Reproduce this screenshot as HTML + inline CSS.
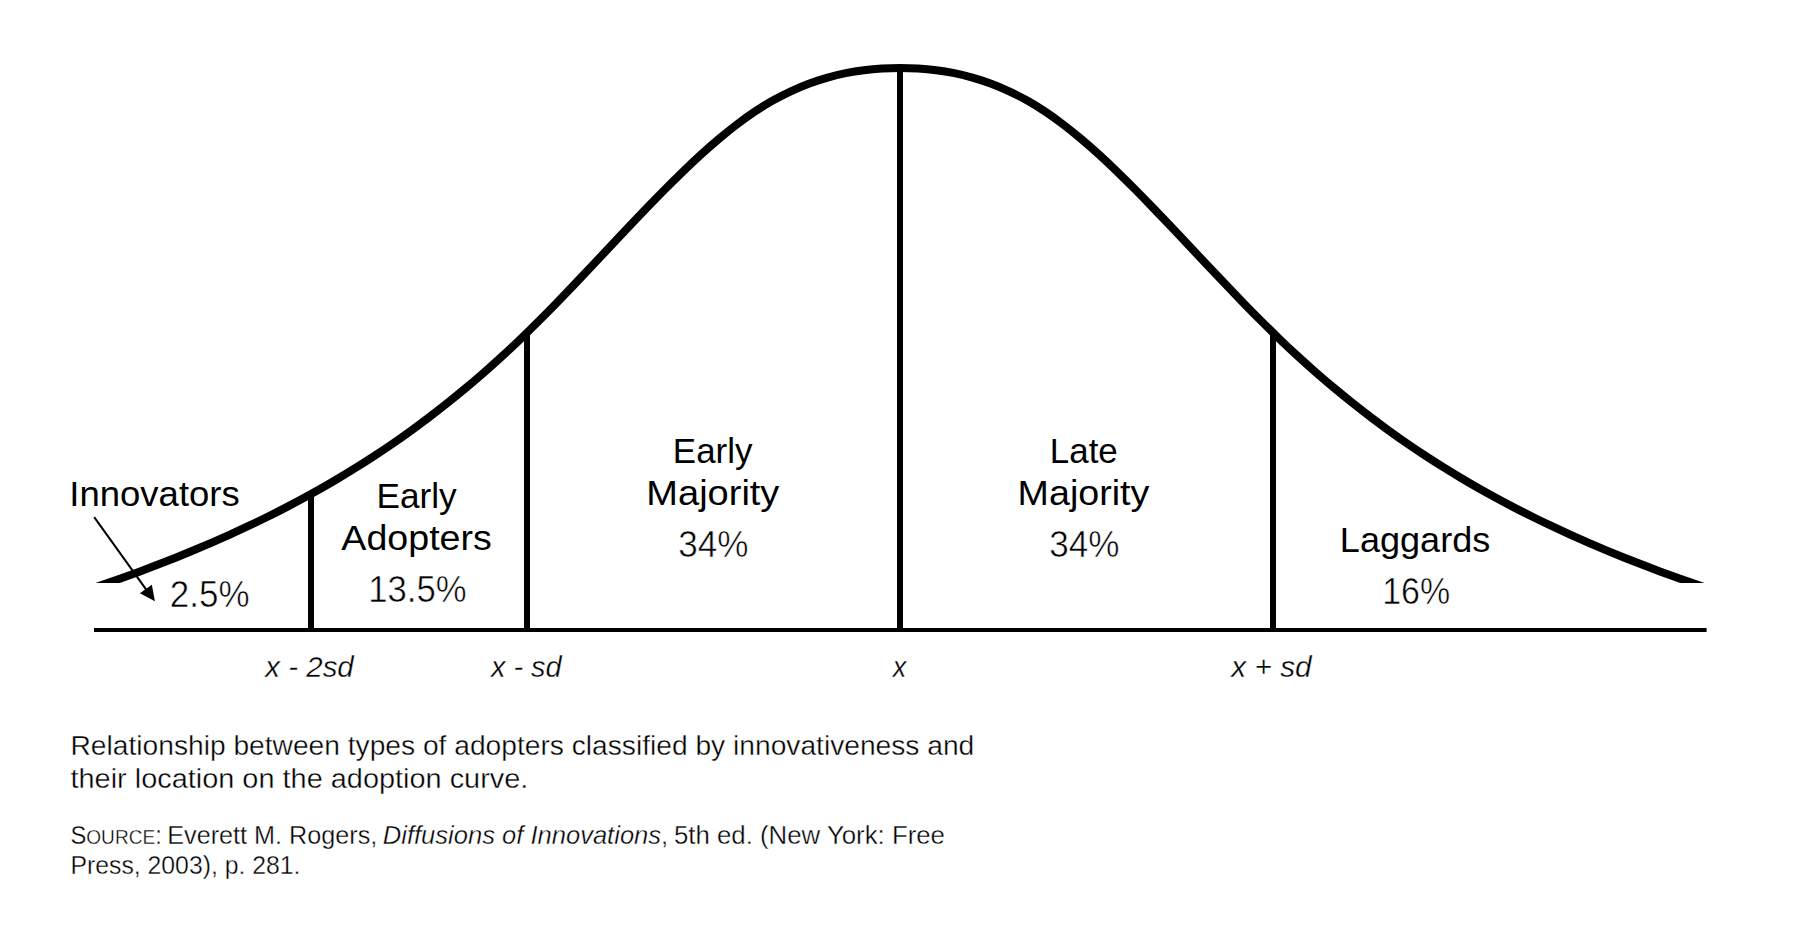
<!DOCTYPE html>
<html lang="en"><head><meta charset="utf-8"><title>Adoption curve</title>
<style>html,body{margin:0;padding:0;background:#fff;}body{width:1800px;height:945px;overflow:hidden;}svg{display:block;}</style>
</head><body>
<svg width="1800" height="945" viewBox="0 0 1800 945">
<defs><clipPath id="cc"><rect x="0" y="0" width="1800" height="583.0"/></clipPath></defs>
<rect width="1800" height="945" fill="#fff"/>
<g clip-path="url(#cc)"><path d="M85.00,590.77 C91.04,588.75 97.07,586.70 103.11,584.62 C109.15,582.53 115.19,580.41 121.22,578.25 C127.26,576.10 133.30,573.90 139.33,571.66 C145.37,569.42 151.41,567.14 157.44,564.81 C163.48,562.49 169.52,560.12 175.56,557.70 C181.59,555.29 187.63,552.82 193.67,550.31 C199.70,547.79 205.74,545.23 211.78,542.61 C217.81,540.00 223.85,537.33 229.89,534.60 C235.93,531.87 241.96,529.09 248.00,526.24 C254.04,523.40 260.07,520.49 266.11,517.51 C272.15,514.54 278.19,511.49 284.22,508.38 C290.26,505.27 296.30,502.08 302.33,498.82 C308.37,495.55 314.41,492.21 320.44,488.79 C326.48,485.37 332.52,481.86 338.56,478.27 C344.59,474.68 350.63,471.00 356.67,467.23 C362.70,463.46 368.74,459.60 374.78,455.64 C380.81,451.68 386.85,447.62 392.89,443.47 C398.93,439.31 404.96,435.05 411.00,430.68 C417.04,426.32 423.07,421.85 429.11,417.27 C435.15,412.69 441.19,408.00 447.22,403.19 C453.26,398.39 459.30,393.47 465.33,388.43 C471.37,383.39 477.41,378.23 483.44,372.95 C489.48,367.67 495.52,362.27 501.56,356.74 C507.59,351.21 513.63,345.56 519.67,339.77 C525.70,333.98 531.74,328.06 537.78,322.04 C543.81,316.01 549.85,309.88 555.89,303.68 C561.93,297.47 567.96,291.19 574.00,284.86 C580.04,278.53 586.07,272.16 592.11,265.76 C598.15,259.36 604.19,252.94 610.22,246.53 C616.26,240.11 622.30,233.71 628.33,227.34 C634.37,220.97 640.41,214.63 646.44,208.36 C652.48,202.09 658.52,195.88 664.56,189.79 C670.59,183.69 676.63,177.70 682.67,171.86 C688.70,166.02 694.74,160.32 700.78,154.82 C706.81,149.31 712.85,143.99 718.89,138.90 C724.93,133.81 730.96,128.95 737.00,124.36 C743.04,119.77 749.07,115.44 755.11,111.43 C761.15,107.41 767.19,103.71 773.22,100.33 C779.26,96.94 785.30,93.86 791.33,91.06 C797.37,88.27 803.41,85.76 809.44,83.52 C815.48,81.29 821.52,79.32 827.56,77.60 C833.59,75.89 839.63,74.42 845.67,73.19 C851.70,71.96 857.74,70.96 863.78,70.18 C869.81,69.39 875.85,68.82 881.89,68.45 C887.93,68.08 893.96,67.90 900.00,67.90 C906.04,67.90 912.07,68.08 918.11,68.45 C924.15,68.82 930.19,69.39 936.22,70.18 C942.26,70.96 948.30,71.96 954.33,73.19 C960.37,74.42 966.41,75.89 972.44,77.60 C978.48,79.32 984.52,81.29 990.56,83.52 C996.59,85.76 1002.63,88.27 1008.67,91.06 C1014.70,93.86 1020.74,96.94 1026.78,100.33 C1032.81,103.71 1038.85,107.41 1044.89,111.43 C1050.93,115.44 1056.96,119.77 1063.00,124.36 C1069.04,128.95 1075.07,133.81 1081.11,138.90 C1087.15,143.99 1093.19,149.31 1099.22,154.82 C1105.26,160.32 1111.30,166.02 1117.33,171.86 C1123.37,177.70 1129.41,183.69 1135.44,189.79 C1141.48,195.88 1147.52,202.09 1153.56,208.36 C1159.59,214.63 1165.63,220.97 1171.67,227.34 C1177.70,233.71 1183.74,240.11 1189.78,246.53 C1195.81,252.94 1201.85,259.36 1207.89,265.76 C1213.93,272.16 1219.96,278.53 1226.00,284.86 C1232.04,291.19 1238.07,297.47 1244.11,303.68 C1250.15,309.88 1256.19,316.01 1262.22,322.04 C1268.26,328.06 1274.30,333.98 1280.33,339.77 C1286.37,345.56 1292.41,351.21 1298.44,356.74 C1304.48,362.27 1310.52,367.67 1316.56,372.95 C1322.59,378.23 1328.63,383.39 1334.67,388.43 C1340.70,393.47 1346.74,398.39 1352.78,403.19 C1358.81,408.00 1364.85,412.69 1370.89,417.27 C1376.93,421.85 1382.96,426.32 1389.00,430.68 C1395.04,435.05 1401.07,439.31 1407.11,443.47 C1413.15,447.62 1419.19,451.68 1425.22,455.64 C1431.26,459.60 1437.30,463.46 1443.33,467.23 C1449.37,471.00 1455.41,474.68 1461.44,478.27 C1467.48,481.86 1473.52,485.37 1479.56,488.79 C1485.59,492.21 1491.63,495.55 1497.67,498.82 C1503.70,502.08 1509.74,505.27 1515.78,508.38 C1521.81,511.49 1527.85,514.54 1533.89,517.51 C1539.93,520.49 1545.96,523.40 1552.00,526.24 C1558.04,529.09 1564.07,531.87 1570.11,534.60 C1576.15,537.33 1582.19,540.00 1588.22,542.61 C1594.26,545.23 1600.30,547.79 1606.33,550.31 C1612.37,552.82 1618.41,555.29 1624.44,557.70 C1630.48,560.12 1636.52,562.49 1642.56,564.81 C1648.59,567.14 1654.63,569.42 1660.67,571.66 C1666.70,573.90 1672.74,576.10 1678.78,578.25 C1684.81,580.41 1690.85,582.53 1696.89,584.62 C1702.93,586.70 1708.96,588.75 1715.00,590.77" fill="none" stroke="#000" stroke-width="8.0" stroke-linejoin="round"/></g>
<g fill="#000">
<rect x="94" y="628" width="1612.6" height="4"/>
<rect x="308" y="494.1" width="6" height="135.9"/>
<rect x="524" y="332.7" width="6" height="297.3"/>
<rect x="897" y="67.9" width="6" height="562.1"/>
<rect x="1270" y="332.7" width="6" height="297.3"/>
</g>
<line x1="94.2" y1="517.2" x2="150" y2="594.8" stroke="#000" stroke-width="2"/>
<polygon points="154.9,601.2 139.9,593.3 151.8,584.8" fill="#000"/>
<g font-family="'Liberation Sans', Arial, Helvetica, sans-serif" fill="#000">
<text x="69.29" y="506.2" font-size="35" textLength="170.51" lengthAdjust="spacingAndGlyphs">Innovators</text>
<text x="169.75" y="606.8" font-size="36.5" textLength="79.81" lengthAdjust="spacingAndGlyphs" stroke="#fff" stroke-width="0.55">2.5%</text>
<text x="376.41" y="507.6" font-size="35" textLength="80.18" lengthAdjust="spacingAndGlyphs">Early</text>
<text x="341.33" y="549.8" font-size="35" textLength="150.52" lengthAdjust="spacingAndGlyphs">Adopters</text>
<text x="368.20" y="602.0" font-size="36.5" textLength="98.36" lengthAdjust="spacingAndGlyphs" stroke="#fff" stroke-width="0.55">13.5%</text>
<text x="672.86" y="463.1" font-size="35" textLength="79.52" lengthAdjust="spacingAndGlyphs">Early</text>
<text x="646.38" y="505.0" font-size="35" textLength="133.01" lengthAdjust="spacingAndGlyphs">Majority</text>
<text x="678.20" y="556.6" font-size="36.5" textLength="70.25" lengthAdjust="spacingAndGlyphs" stroke="#fff" stroke-width="0.55">34%</text>
<text x="1049.85" y="463.1" font-size="35" textLength="67.91" lengthAdjust="spacingAndGlyphs">Late</text>
<text x="1017.63" y="505.0" font-size="35" textLength="131.73" lengthAdjust="spacingAndGlyphs">Majority</text>
<text x="1049.20" y="556.6" font-size="36.5" textLength="70.25" lengthAdjust="spacingAndGlyphs" stroke="#fff" stroke-width="0.55">34%</text>
<text x="1339.85" y="552.0" font-size="35" textLength="150.42" lengthAdjust="spacingAndGlyphs">Laggards</text>
<text x="1382.18" y="603.9" font-size="36.5" textLength="67.92" lengthAdjust="spacingAndGlyphs" stroke="#fff" stroke-width="0.55">16%</text>
<text x="265.36" y="676.6" font-size="29.5" textLength="88.39" lengthAdjust="spacingAndGlyphs" font-style="italic" stroke="#fff" stroke-width="0.35">x - 2sd</text>
<text x="490.92" y="676.6" font-size="29.5" textLength="70.77" lengthAdjust="spacingAndGlyphs" font-style="italic" stroke="#fff" stroke-width="0.35">x - sd</text>
<text x="892.68" y="676.6" font-size="29.5" textLength="13.54" lengthAdjust="spacingAndGlyphs" font-style="italic" stroke="#fff" stroke-width="0.35">x</text>
<text x="1231.37" y="676.6" font-size="29.5" textLength="80.26" lengthAdjust="spacingAndGlyphs" font-style="italic" stroke="#fff" stroke-width="0.35">x + sd</text>
<text x="70.51" y="755.1" font-size="27" textLength="903.76" lengthAdjust="spacingAndGlyphs" stroke="#fff" stroke-width="0.35">Relationship between types of adopters classified by innovativeness and</text>
<text x="70.48" y="788.0" font-size="27" textLength="457.90" lengthAdjust="spacingAndGlyphs" stroke="#fff" stroke-width="0.35">their location on the adoption curve.</text>
<text x="70.49" y="844.0" font-size="25.5" textLength="91.25" lengthAdjust="spacingAndGlyphs" stroke="#fff" stroke-width="0.35">S<tspan font-size="20.5">OURCE</tspan>:</text>
<text x="167.29" y="844.0" font-size="25.5" textLength="210.02" lengthAdjust="spacingAndGlyphs" stroke="#fff" stroke-width="0.35">Everett M. Rogers,</text>
<text x="382.79" y="844.0" font-size="25.5" textLength="285.40" lengthAdjust="spacingAndGlyphs" stroke="#fff" stroke-width="0.35"><tspan font-style="italic">Diffusions of Innovations</tspan>,</text>
<text x="673.96" y="844.0" font-size="25.5" textLength="270.98" lengthAdjust="spacingAndGlyphs" stroke="#fff" stroke-width="0.35">5th ed. (New York: Free</text>
<text x="70.44" y="873.9" font-size="25.5" textLength="230.06" lengthAdjust="spacingAndGlyphs" stroke="#fff" stroke-width="0.35">Press, 2003), p. 281.</text>
</g>
</svg>
</body></html>
